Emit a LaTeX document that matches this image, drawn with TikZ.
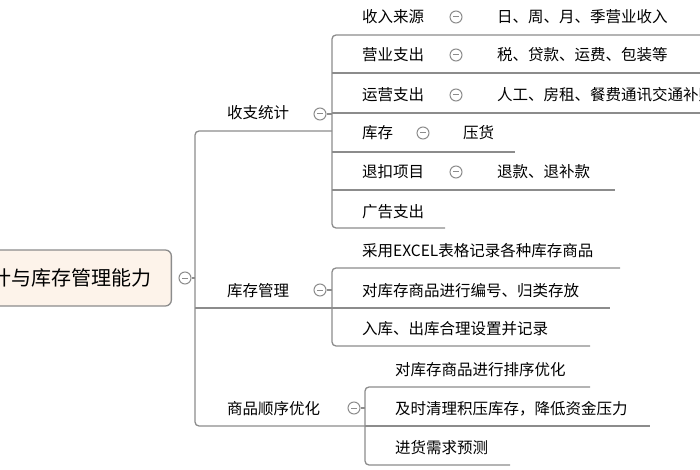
\documentclass[tikz,border=0pt]{standalone}
\usepackage{fontspec}
\setmainfont{Noto Sans CJK SC}
\usetikzlibrary{positioning}
\definecolor{linegray}{HTML}{8C8C8C}
\definecolor{rootfill}{HTML}{FDF3EA}
\tikzset{
  topic/.style={anchor=base west,inner sep=0pt,font=\fontsize{15.5}{18}\selectfont},
  fold/.style={circle,draw=linegray,fill=white,line width=1pt,minimum size=12pt,inner sep=0pt,
    path picture={\draw[linegray,line width=1pt](path picture bounding box.center)++(-3pt,0)--++(6pt,0);}},
  branch/.style={draw=linegray,line width=1.3pt,rounded corners=4pt}
}
\begin{document}
\begin{tikzpicture}[x=1pt,y=-1pt]
\useasboundingbox (0,0) rectangle (700,470);
\clip (0,0) rectangle (700,470);
% root
\node[draw=linegray,fill=rootfill,line width=1.3pt,rounded corners=6pt,minimum height=56pt,
  anchor=east,font=\fontsize{20}{24}\selectfont,inner xsep=20pt](Root)at(172,278){收支统计与库存管理能力};
\node[fold](fRoot)at(185,278){};
% main spine
\draw[branch](fRoot)--(195,278);
\draw[branch](332,131)--(195,131)--(195,426)--(365,426);
\draw[branch](195,308)--(332,308);
\node[topic](Stat)at(227,119){收支统计};
\node[topic](Stock)at(227,296){库存管理};
\node[topic](Order)at(227,414){商品顺序优化};
\node[fold](fStat)at(320,114){};
\node[fold](fStock)at(320,290){};
\node[fold](fOrder)at(354,408){};
% 收支统计 children
\draw[branch](700,35)--(332,35)--(332,228)--(445,228);
\draw[branch](332,73)--(700,73);
\draw[branch](332,113)--(700,113);
\draw[branch](332,152)--(515,152);
\draw[branch](332,190)--(615,190);
\draw[branch](fStat)--(332,114);
\node[topic](Income)at(362,23){收入来源};
\node[topic](OpCost)at(362,61){营业支出};
\node[topic](RunCost)at(362,101){运营支出};
\node[topic](Inv)at(362,139){库存};
\node[topic](Refund)at(362,178){退扣项目};
\node[topic](Ads)at(362,217){广告支出};
\node[fold](fIncome)at(456,17){};
\node[fold](fOpCost)at(456,55){};
\node[fold](fRunCost)at(456,95){};
\node[fold](fInv)at(423,133){};
\node[fold](fRefund)at(456,172){};
\node[topic](IncomeD)at(497,23){日、周、月、季营业收入};
\node[topic](OpCostD)at(497,61){税、贷款、运费、包装等};
\node[topic](RunCostD)at(497,101){人工、房租、餐费通讯交通补贴};
\node[topic](InvD)at(463,139){压货};
\node[topic](RefundD)at(497,178){退款、退补款};
% 库存管理 children
\draw[branch](620,268)--(332,268)--(332,346)--(590,346);
\draw[branch](fStock)--(332,290);
\node[topic](Excel)at(362,256){采用EXCEL表格记录各种库存商品};
\node[topic](Code)at(362,296){对库存商品进行编号、归类存放};
\node[topic](InOut)at(362,334){入库、出库合理设置并记录};
\draw[branch](332,308)--(610,308);
% 商品顺序优化 children
\draw[branch](590,387)--(365,387)--(365,465)--(510,465);
\draw[branch](365,426)--(650,426);
\draw[branch](fOrder)--(365,408);
\node[topic](Sort)at(395,375){对库存商品进行排序优化};
\node[topic](Clear)at(395,414){及时清理积压库存，降低资金压力};
\node[topic](Plan)at(395,453){进货需求预测};
\end{tikzpicture}
\end{document}
